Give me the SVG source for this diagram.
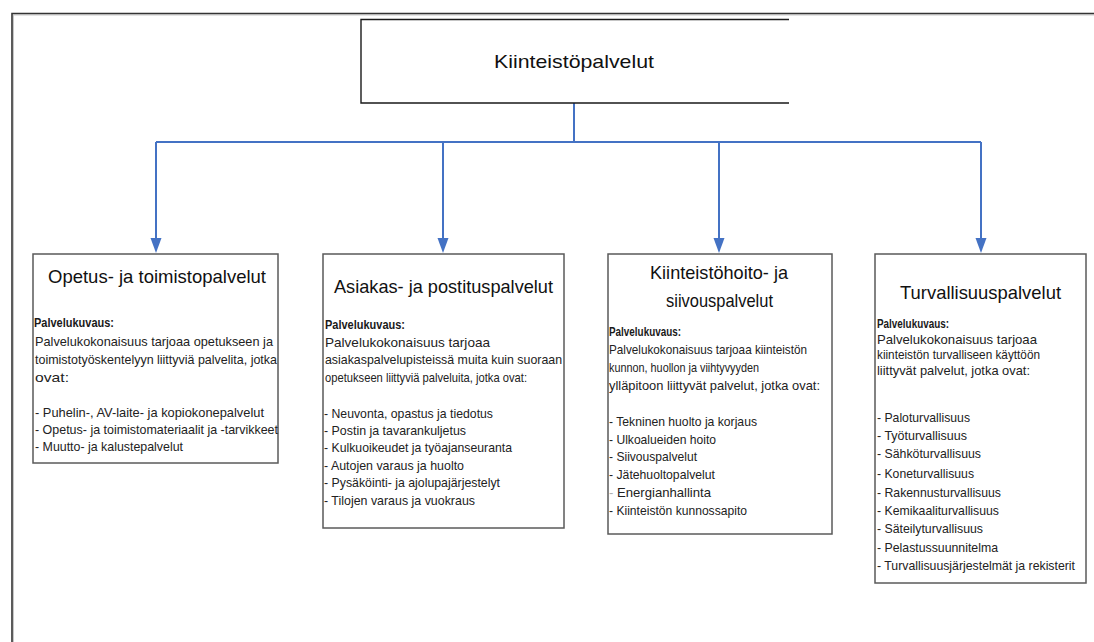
<svg xmlns="http://www.w3.org/2000/svg" width="1094" height="642" viewBox="0 0 1094 642">
  <style>
    .frame { fill: none; stroke: #333333; stroke-width: 1.6; }
    .frame-shade { fill: none; stroke: #c8c8c8; stroke-width: 1; }
    .root { fill: #ffffff; stroke: #1a1a1a; stroke-width: 1.4; }
    .box { fill: #ffffff; stroke: #5a5a5a; stroke-width: 1.5; }
    .conn { fill: none; stroke: #4472c4; stroke-width: 2; }
    .title { font-family: "Liberation Sans", Arial, sans-serif; font-size: 19px; fill: #111111; text-anchor: middle; }
    .head { font-family: "Liberation Sans", Arial, sans-serif; font-size: 12.5px; font-weight: bold; fill: #1a1a1a; }
    .body { font-family: "Liberation Sans", Arial, sans-serif; font-size: 12.7px; fill: #222222; }
    .faint { fill: #b0b0b0; }
  </style>
  <defs>
    <!-- downward-pointing connector head, tip 8px beyond the line end -->
    <marker id="arrow" markerUnits="userSpaceOnUse" markerWidth="15" markerHeight="12" refX="7" refY="6" orient="auto" viewBox="0 0 15 12">
      <path d="M0,0.5 L15,6 L0,11.5 Z" fill="#4472c4"/>
    </marker>
  </defs>

  <rect width="1094" height="642" fill="#ffffff"/>

  <!-- page frame: open on the right and bottom -->
  <g id="frame">
    <path class="frame-shade" d="M13,15 H1094 M13.5,15 V642"/>
    <path class="frame" d="M12,642 V13.5 H1094"/>
  </g>

  <!-- connectors -->
  <g id="connectors">
    <path class="conn" d="M574,103 V142"/>
    <path class="conn" d="M156,142 H981"/>
    <path class="conn" d="M156,142 V245" marker-end="url(#arrow)"/>
    <path class="conn" d="M443,142 V245" marker-end="url(#arrow)"/>
    <path class="conn" d="M719,142 V245" marker-end="url(#arrow)"/>
    <path class="conn" d="M981,142 V245" marker-end="url(#arrow)"/>
  </g>

  <!-- root node: right side left open -->
  <g id="node-kiinteistopalvelut">
    <path class="root" d="M789,19.5 H361 V103 H789"/>
    <text class="title" x="574" y="68" font-size="21" textLength="160" lengthAdjust="spacingAndGlyphs">Kiinteistöpalvelut</text>
  </g>

  <g id="node-opetus">
    <rect class="box" x="33" y="254" width="245" height="209"/>
    <text class="title" x="157" y="283" textLength="218" lengthAdjust="spacingAndGlyphs">Opetus- ja toimistopalvelut</text>
    <text class="head" x="34" y="327" textLength="80" lengthAdjust="spacingAndGlyphs">Palvelukuvaus:</text>
    <text class="body" x="35" y="346" textLength="238" lengthAdjust="spacingAndGlyphs">Palvelukokonaisuus tarjoaa opetukseen ja</text>
    <text class="body" x="35" y="364" textLength="242" lengthAdjust="spacingAndGlyphs">toimistotyöskentelyyn liittyviä palvelita, jotka</text>
    <text class="body" x="35" y="382" textLength="34" lengthAdjust="spacingAndGlyphs">ovat:</text>
    <text class="body" x="35" y="417" textLength="229" lengthAdjust="spacingAndGlyphs">- Puhelin-, AV-laite- ja kopiokonepalvelut</text>
    <text class="body" x="35" y="434" textLength="243" lengthAdjust="spacingAndGlyphs">- Opetus- ja toimistomateriaalit ja -tarvikkeet</text>
    <text class="body" x="35" y="451" textLength="148" lengthAdjust="spacingAndGlyphs">- Muutto- ja kalustepalvelut</text>
  </g>

  <g id="node-asiakas">
    <rect class="box" x="323" y="254" width="241" height="274"/>
    <text class="title" x="443.5" y="293" textLength="219" lengthAdjust="spacingAndGlyphs">Asiakas- ja postituspalvelut</text>
    <text class="head" x="325" y="329" textLength="80" lengthAdjust="spacingAndGlyphs">Palvelukuvaus:</text>
    <text class="body" x="325" y="347" textLength="165" lengthAdjust="spacingAndGlyphs">Palvelukokonaisuus tarjoaa</text>
    <text class="body" x="325" y="364" textLength="237" lengthAdjust="spacingAndGlyphs">asiakaspalvelupisteissä muita kuin suoraan</text>
    <text class="body" x="325" y="382" textLength="202" lengthAdjust="spacingAndGlyphs">opetukseen liittyviä palveluita, jotka ovat:</text>
    <text class="body" x="324" y="418" textLength="169" lengthAdjust="spacingAndGlyphs">- Neuvonta, opastus ja tiedotus</text>
    <text class="body" x="324" y="435" textLength="142" lengthAdjust="spacingAndGlyphs">- Postin ja tavarankuljetus</text>
    <text class="body" x="324" y="452" textLength="188" lengthAdjust="spacingAndGlyphs">- Kulkuoikeudet ja työajanseuranta</text>
    <text class="body" x="324" y="470" textLength="140" lengthAdjust="spacingAndGlyphs">- Autojen varaus ja huolto</text>
    <text class="body" x="324" y="487" textLength="176" lengthAdjust="spacingAndGlyphs">- Pysäköinti- ja ajolupajärjestelyt</text>
    <text class="body" x="324" y="505" textLength="151" lengthAdjust="spacingAndGlyphs">- Tilojen varaus ja vuokraus</text>
  </g>

  <g id="node-kiinteistohoito">
    <rect class="box" x="608" y="254" width="224" height="280"/>
    <text class="title" x="719" y="279" textLength="138" lengthAdjust="spacingAndGlyphs">Kiinteistöhoito- ja</text>
    <text class="title" x="719.5" y="307" textLength="107" lengthAdjust="spacingAndGlyphs">siivouspalvelut</text>
    <text class="head" x="609" y="336" textLength="72" lengthAdjust="spacingAndGlyphs">Palvelukuvaus:</text>
    <text class="body" x="609" y="354" textLength="198" lengthAdjust="spacingAndGlyphs">Palvelukokonaisuus tarjoaa kiinteistön</text>
    <text class="body" x="609" y="372" textLength="150" lengthAdjust="spacingAndGlyphs">kunnon, huollon ja viihtyvyyden</text>
    <text class="body" x="609" y="390" textLength="211" lengthAdjust="spacingAndGlyphs">ylläpitoon liittyvät palvelut, jotka ovat:</text>
    <text class="body" x="609" y="426" textLength="148" lengthAdjust="spacingAndGlyphs">- Tekninen huolto ja korjaus</text>
    <text class="body" x="609" y="444" textLength="107" lengthAdjust="spacingAndGlyphs">- Ulkoalueiden hoito</text>
    <text class="body" x="609" y="461" textLength="88" lengthAdjust="spacingAndGlyphs">- Siivouspalvelut</text>
    <text class="body" x="609" y="479" textLength="106" lengthAdjust="spacingAndGlyphs">- Jätehuoltopalvelut</text>
    <text class="body" x="609" y="497" textLength="102" lengthAdjust="spacingAndGlyphs"><tspan class="faint">-</tspan> Energianhallinta</text>
    <text class="body" x="609" y="515" textLength="138" lengthAdjust="spacingAndGlyphs">- Kiinteistön kunnossapito</text>
  </g>

  <g id="node-turvallisuus">
    <rect class="box" x="875" y="254" width="211" height="329"/>
    <text class="title" x="980.5" y="299" textLength="161" lengthAdjust="spacingAndGlyphs">Turvallisuuspalvelut</text>
    <text class="head" x="877" y="328" textLength="72" lengthAdjust="spacingAndGlyphs">Palvelukuvaus:</text>
    <text class="body" x="877" y="344" textLength="160" lengthAdjust="spacingAndGlyphs">Palvelukokonaisuus tarjoaa</text>
    <text class="body" x="877" y="359" textLength="163" lengthAdjust="spacingAndGlyphs">kiinteistön turvalliseen käyttöön</text>
    <text class="body" x="877" y="375" textLength="153" lengthAdjust="spacingAndGlyphs">liittyvät palvelut, jotka ovat:</text>
    <text class="body" x="877" y="422" textLength="93" lengthAdjust="spacingAndGlyphs">- Paloturvallisuus</text>
    <text class="body" x="877" y="440" textLength="90" lengthAdjust="spacingAndGlyphs">- Työturvallisuus</text>
    <text class="body" x="877" y="458" textLength="104" lengthAdjust="spacingAndGlyphs">- Sähköturvallisuus</text>
    <text class="body" x="877" y="478" textLength="97" lengthAdjust="spacingAndGlyphs">- Koneturvallisuus</text>
    <text class="body" x="877" y="497" textLength="124" lengthAdjust="spacingAndGlyphs">- Rakennusturvallisuus</text>
    <text class="body" x="877" y="515" textLength="122" lengthAdjust="spacingAndGlyphs">- Kemikaaliturvallisuus</text>
    <text class="body" x="877" y="533" textLength="106" lengthAdjust="spacingAndGlyphs">- Säteilyturvallisuus</text>
    <text class="body" x="877" y="552" textLength="121" lengthAdjust="spacingAndGlyphs">- Pelastussuunnitelma</text>
    <text class="body" x="877" y="570" textLength="198" lengthAdjust="spacingAndGlyphs">- Turvallisuusjärjestelmät ja rekisterit</text>
  </g>
</svg>
